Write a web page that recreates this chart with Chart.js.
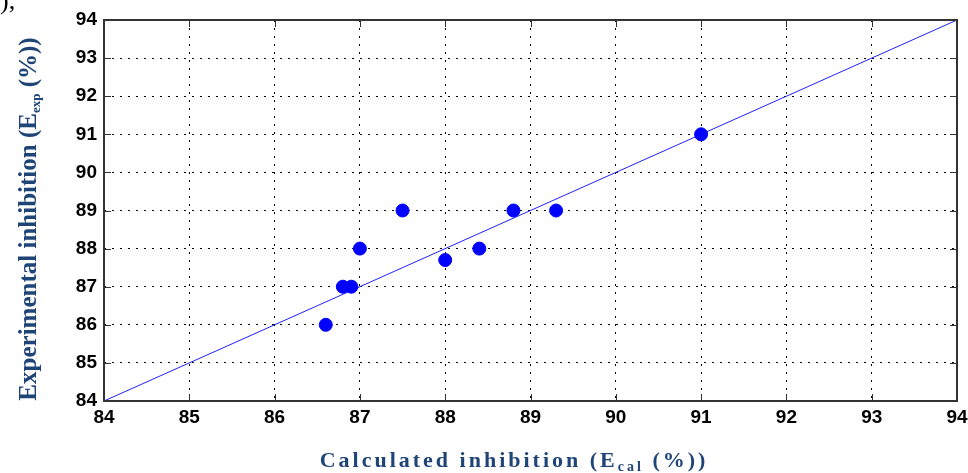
<!DOCTYPE html>
<html>
<head>
<meta charset="utf-8">
<script src="https://cdn.jsdelivr.net/npm/chart.js@4"></script>
<style>
  html, body { margin: 0; padding: 0; background: #fff; }
  #wrap { position: relative; width: 968px; height: 473px; }
</style>
</head>
<body>
<div id="wrap"><canvas id="chart" width="968" height="473"></canvas></div>
<script>
const calcX = [86.6, 86.8, 86.9, 87.0, 87.5, 88.0, 88.4, 88.8, 89.3, 91.0];
const expY  = [86.0, 87.0, 87.0, 88.0, 89.0, 87.7, 88.0, 89.0, 89.0, 91.0];
// y = x reference line
const fitX = [84, 94];
const fitY = [84, 94];
const tickVals = [84, 85, 86, 87, 88, 89, 90, 91, 92, 93, 94];

const labelColor = '#1f4478';

const frame = {
  id: 'frame',
  afterDatasetsDraw(chart) {
    const { ctx, chartArea: a, scales } = chart;
    ctx.save();
    ctx.strokeStyle = '#333';
    ctx.lineWidth = 1;
    // inward ticks on all four sides
    tickVals.forEach(v => {
      const x = Math.round(scales.x.getPixelForValue(v)) + 0.5;
      const y = Math.round(scales.y.getPixelForValue(v)) + 0.5;
      ctx.beginPath();
      ctx.moveTo(x, a.bottom); ctx.lineTo(x, a.bottom - 7);
      ctx.moveTo(x, a.top); ctx.lineTo(x, a.top + 7);
      ctx.moveTo(a.left, y); ctx.lineTo(a.left + 7, y);
      ctx.moveTo(a.right, y); ctx.lineTo(a.right - 7, y);
      ctx.stroke();
    });
    ctx.lineWidth = 2;
    ctx.strokeRect(a.left, a.top, a.right - a.left, a.bottom - a.top);
    ctx.restore();
  },
  afterDraw(chart) {
    const ctx = chart.ctx;
    const drawParts = (parts, cx, baseY) => {
      let total = 0;
      parts.forEach(p => { ctx.font = p.font; total += ctx.measureText(p.t).width; });
      let x = cx - total / 2;
      parts.forEach(p => {
        ctx.font = p.font;
        ctx.fillText(p.t, x, baseY + (p.dy || 0));
        x += ctx.measureText(p.t).width;
      });
    };
    ctx.save();
    ctx.fillStyle = labelColor;
    ctx.textBaseline = 'alphabetic';
    ctx.textAlign = 'left';

    // x axis title
    ctx.letterSpacing = '3px';
    drawParts([
      { t: 'Calculated inhibition (E', font: 'bold 22px "Liberation Serif", serif' },
      { t: 'cal', font: 'bold 14px "Liberation Serif", serif', dy: 4 },
      { t: ' (%))', font: 'bold 22px "Liberation Serif", serif' }
    ], 514, 467);
    ctx.letterSpacing = '0px';

    // y axis title
    ctx.translate(36, 219);
    ctx.rotate(-Math.PI / 2);
    drawParts([
      { t: 'Experimental inhibition (E', font: 'bold 25px "Liberation Serif", serif' },
      { t: 'exp', font: 'bold 13px "Liberation Serif", serif', dy: 4 },
      { t: ' (%))', font: 'bold 25px "Liberation Serif", serif' }
    ], 0, 0);
    ctx.restore();

    // cut-off caption fragment at top-left corner
    ctx.save();
    ctx.fillStyle = '#000';
    ctx.font = '26px "Liberation Serif", serif';
    ctx.textBaseline = 'alphabetic';
    ctx.fillText('),', 0, 9);
    ctx.restore();
  }
};

const tickFont = { family: '"Liberation Sans", Arial, sans-serif', size: 19, weight: 'bold' };

new Chart(document.getElementById('chart'), {
  type: 'scatter',
  data: {
    datasets: [
      {
        label: 'fit',
        data: fitX.map((x, i) => ({ x: x, y: fitY[i] })),
        showLine: true,
        borderColor: '#2020ff',
        borderWidth: 1,
        pointRadius: 0,
        order: 2
      },
      {
        label: 'data',
        data: calcX.map((x, i) => ({ x: x, y: expY[i] })),
        backgroundColor: '#0000ff',
        borderColor: '#0000ff',
        pointRadius: 6.5,
        order: 1
      }
    ]
  },
  options: {
    responsive: false,
    animation: false,
    layout: { padding: { left: 0, top: 20, right: 11, bottom: 0 } },
    plugins: { legend: { display: false }, tooltip: { enabled: false } },
    scales: {
      x: {
        type: 'linear',
        min: 84, max: 94,
        afterFit: s => { s.height = 72; s.paddingLeft = 0; s.paddingRight = 0; },
        afterBuildTicks: s => { s.ticks = tickVals.map(v => ({ value: v })); },
        grid: { color: '#000', lineWidth: 1, drawTicks: false },
        border: { display: false, dash: [2, 6] },
        ticks: { color: '#000', font: tickFont, padding: 5, maxRotation: 0 }
      },
      y: {
        type: 'linear',
        min: 84, max: 94,
        afterFit: s => { s.width = 104; s.paddingTop = 0; s.paddingBottom = 0; },
        afterBuildTicks: s => { s.ticks = tickVals.map(v => ({ value: v })); },
        grid: { color: '#000', lineWidth: 1, drawTicks: false },
        border: { display: false, dash: [2, 6] },
        ticks: { color: '#000', font: tickFont, padding: 7 }
      }
    }
  },
  plugins: [frame]
});
</script>
</body>
</html>
